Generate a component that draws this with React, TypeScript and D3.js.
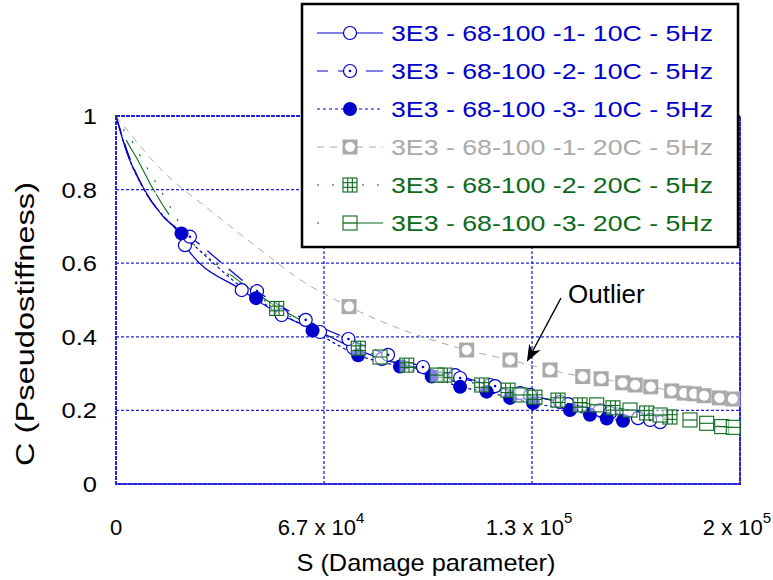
import React from "react";
import * as d3 from "d3";

const W = 773;
const H = 580;

// axis ticks
const xTickValues = [0, 200000 / 3, 400000 / 3, 200000];
const xTickMant = ["0", "6.7 x 10", "1.3 x 10", "2 x 10"];
const xTickExp = ["", "4", "5", "5"];
const yTickValues = [0, 0.2, 0.4, 0.6, 0.8, 1];
const yTickLabels = ["0", "0.2", "0.4", "0.6", "0.8", "1"];

// series names
const seriesNames = [
  "3E3 - 68-100 -1- 10C - 5Hz",
  "3E3 - 68-100 -2- 10C - 5Hz",
  "3E3 - 68-100 -3- 10C - 5Hz",
  "3E3 - 68-100 -1- 20C - 5Hz",
  "3E3 - 68-100 -2- 20C - 5Hz",
  "3E3 - 68-100 -3- 20C - 5Hz",
];

// Series 1 (10C, #1): early curve + markers
const s1LineS = [0, 3500, 8650, 15200, 19400];
const s1LineC = [1, 0.9, 0.807, 0.726, 0.69];
const s1MarkS = [22100, 40300, 53100, 65400, 76000, 85200, 108700, 119900, 129500, 142300, 155100, 167300, 174400];
const s1MarkC = [0.649, 0.527, 0.459, 0.413, 0.37, 0.34, 0.296, 0.269, 0.247, 0.223, 0.201, 0.179, 0.168];

// Series 2 (10C, #2)
const s2LineS = [0, 4000, 9000, 16000];
const s2LineC = [1, 0.895, 0.8, 0.72];
const s2MarkS = [23700, 45200, 60800, 74500, 87200, 98400, 110300, 121500, 132700, 144900, 158300, 171200];
const s2MarkC = [0.672, 0.524, 0.446, 0.394, 0.351, 0.318, 0.288, 0.266, 0.242, 0.217, 0.193, 0.174];

// Series 3 (10C, #3)
const s3LineS = [0, 4000, 9000, 15000];
const s3LineC = [1, 0.89, 0.8, 0.73];
const s3MarkS = [21000, 44900, 63000, 77600, 91000, 101200, 110300, 118800, 126300, 133700, 145500, 151900, 157300, 162500];
const s3MarkC = [0.681, 0.505, 0.417, 0.35, 0.319, 0.292, 0.264, 0.251, 0.234, 0.22, 0.201, 0.188, 0.178, 0.172];

// Series 4 (20C, #1) - grey
const s4LineS = [0, 15000, 30000, 45000, 60000];
const s4LineC = [1, 0.85, 0.745, 0.645, 0.55];
const s4MarkS = [74700, 112400, 126300, 139100, 149600, 155500, 162400, 166400, 171400, 178100, 182100, 185300, 188500, 193400, 197700];
const s4MarkC = [0.482, 0.364, 0.337, 0.31, 0.292, 0.286, 0.275, 0.269, 0.264, 0.253, 0.247, 0.245, 0.24, 0.234, 0.231];

// Series 5 (20C, #2) - green grid squares
const s5LineS = [0, 2900, 5600, 8750, 11950, 17300, 23700, 29100, 36000];
const s5LineC = [1, 0.957, 0.926, 0.876, 0.831, 0.754, 0.663, 0.622, 0.57];
const s5MarkS = [51500, 77660, 93170, 105450, 117210, 125640, 134290, 141670, 148720, 159290, 170090, 177560];
const s5MarkC = [0.477, 0.369, 0.323, 0.296, 0.269, 0.255, 0.236, 0.228, 0.215, 0.207, 0.193, 0.182];

// Series 6 (20C, #3) - green line squares
const s6LineS = [0, 3000, 7000, 12000, 18000, 25000, 35000, 50000, 65000];
const s6LineC = [1, 0.94, 0.88, 0.8, 0.72, 0.65, 0.58, 0.49, 0.42];
const s6MarkS = [84620, 102880, 129490, 154070, 164740, 174360, 183970, 189330, 194130, 197850];
const s6MarkC = [0.345, 0.296, 0.242, 0.215, 0.201, 0.1875, 0.174, 0.165, 0.156, 0.154];

// annotation
const outlierTip = [131700, 0.332];
const outlierTail = [142600, 0.505];
const outlierTextPos = [144900, 0.492];

const BLUE = "#0000cc";
const GREY = "#aaaaaa";
const GREEN = "#0a6a1a";
const GRID = "#2222dd";
const FONT = "'Liberation Sans', Arial, Helvetica, sans-serif";

type MarkerKind = "open" | "dot" | "filled" | "greySq" | "gridSq" | "lineSq";

const series = [
  { name: seriesNames[0], color: BLUE, dash: "none", width: 1.2, kind: "open" as MarkerKind, lS: s1LineS, lC: s1LineC, mS: s1MarkS, mC: s1MarkC, legOff: 0 },
  { name: seriesNames[1], color: BLUE, dash: "18,10", width: 1.2, kind: "dot" as MarkerKind, lS: s2LineS, lC: s2LineC, mS: s2MarkS, mC: s2MarkC, legOff: 7 },
  { name: seriesNames[2], color: BLUE, dash: "3,3", width: 1.2, kind: "filled" as MarkerKind, lS: s3LineS, lC: s3LineC, mS: s3MarkS, mC: s3MarkC, legOff: 0 },
  { name: seriesNames[3], color: GREY, dash: "7,6", width: 1, kind: "greySq" as MarkerKind, lS: s4LineS, lC: s4LineC, mS: s4MarkS, mC: s4MarkC, legOff: 0 },
  { name: seriesNames[4], color: GREEN, dash: "2,13", width: 1.1, kind: "gridSq" as MarkerKind, lS: s5LineS, lC: s5LineC, mS: s5MarkS, mC: s5MarkC, legOff: 0 },
  { name: seriesNames[5], color: GREEN, dash: "2,24,60", width: 1.1, kind: "lineSq" as MarkerKind, lS: s6LineS, lC: s6LineC, mS: s6MarkS, mC: s6MarkC, legOff: 0 },
];

function Marker({ kind, color, cx, cy }: { kind: MarkerKind; color: string; cx: number; cy: number }) {
  const h = 7;
  switch (kind) {
    case "open":
      return <circle cx={cx} cy={cy} r={6.5} fill="white" stroke={color} strokeWidth={1.2} />;
    case "dot":
      return (
        <g>
          <circle cx={cx} cy={cy} r={6.5} fill="white" stroke={color} strokeWidth={1.2} />
          <circle cx={cx} cy={cy} r={1.3} fill={color} />
        </g>
      );
    case "filled":
      return <circle cx={cx} cy={cy} r={7} fill={color} />;
    case "greySq":
      return (
        <g>
          <rect x={cx - 7.5} y={cy - 7.5} width={15} height={15} fill={color} />
          <circle cx={cx} cy={cy} r={5} fill="white" />
        </g>
      );
    case "gridSq":
      return (
        <g fill="none" stroke={color} strokeWidth={1.1}>
          <rect x={cx - h} y={cy - h} width={2 * h} height={2 * h} fill="white" fillOpacity={0.5} />
          <line x1={cx - h / 3} x2={cx - h / 3} y1={cy - h} y2={cy + h} />
          <line x1={cx + h / 3} x2={cx + h / 3} y1={cy - h} y2={cy + h} />
          <line y1={cy - h / 3} y2={cy - h / 3} x1={cx - h} x2={cx + h} />
          <line y1={cy + h / 3} y2={cy + h / 3} x1={cx - h} x2={cx + h} />
        </g>
      );
    case "lineSq":
      return (
        <g fill="none" stroke={color} strokeWidth={1.1}>
          <rect x={cx - h} y={cy - h} width={2 * h} height={2 * h} fill="white" fillOpacity={0.5} />
          <line y1={cy} y2={cy} x1={cx - h} x2={cx + h} />
        </g>
      );
  }
  return null;
}

export default function App() {
  const x = d3.scaleLinear().domain([0, 200000]).range([116, 740]);
  const y = d3.scaleLinear().domain([0, 1]).range([484, 116]);

  const line = d3
    .line<[number, number]>()
    .x((d) => x(d[0]))
    .y((d) => y(d[1]))
    .curve(d3.curveMonotoneX);

  const legendX0 = 317;
  const legendX1 = 383;
  const legendMX = 350;
  const legendTextX = 391;
  const legendBase0 = 41;
  const legendStep = 38;

  const [tipX, tipY] = [x(outlierTip[0]), y(outlierTip[1])];
  const [tailX, tailY] = [x(outlierTail[0]), y(outlierTail[1])];
  const ang = Math.atan2(tipY - tailY, tipX - tailX);
  const aL = 17;
  const aW = 6.5;
  const bx = tipX - aL * Math.cos(ang);
  const by = tipY - aL * Math.sin(ang);
  const nx = -Math.sin(ang);
  const ny = Math.cos(ang);
  const notchX = tipX - aL * 0.7 * Math.cos(ang);
  const notchY = tipY - aL * 0.7 * Math.sin(ang);

  return (
    <div style={{ position: "absolute", left: 0, top: 0 }}>
      <svg width={W} height={H} style={{ display: "block", background: "white" }} fontFamily={FONT}>
        {/* grid */}
        {yTickValues.map((v, i) => (
          <line key={"gy" + i} x1={x(0)} x2={x(200000)} y1={y(v)} y2={y(v)} stroke={GRID} strokeWidth={1.3} strokeDasharray="3,2" />
        ))}
        {xTickValues.map((v, i) => (
          <line key={"gx" + i} x1={x(v)} x2={x(v)} y1={y(0)} y2={y(1)} stroke={GRID} strokeWidth={1.3} strokeDasharray="3,2" />
        ))}
        {/* frame */}
        <rect x={x(0)} y={y(1)} width={x(200000) - x(0)} height={y(0) - y(1)} fill="none" stroke={GRID} strokeWidth={2} strokeDasharray="4,1" />

        {/* series lines */}
        {series.map((s, i) => {
          const pts: [number, number][] = [
            ...s.lS.map((v, j) => [v, s.lC[j]] as [number, number]),
            ...s.mS.map((v, j) => [v, s.mC[j]] as [number, number]),
          ];
          return (
            <path key={"l" + i} d={line(pts) || ""} fill="none" stroke={s.color} strokeWidth={s.width} strokeDasharray={s.dash} />
          );
        })}
        {/* series markers */}
        {series.map((s, i) => (
          <g key={"m" + i}>
            {s.mS.map((v, j) => (
              <Marker key={j} kind={s.kind} color={s.color} cx={x(v)} cy={y(s.mC[j])} />
            ))}
          </g>
        ))}

        {/* y tick labels */}
        {yTickValues.map((v, i) => (
          <text key={"yl" + i} transform={`translate(97, ${y(v) + 8}) scale(1.16, 1)`} textAnchor="end" fontSize={22} fill="black">
            {yTickLabels[i]}
          </text>
        ))}
        {/* x tick labels */}
        {xTickValues.map((v, i) => (
          <text key={"xl" + i} x={x(v) + (xTickExp[i] ? -3 : 0)} y={535} textAnchor="middle" fontSize={22} fill="black">
            {xTickMant[i]}
            {xTickExp[i] ? (
              <tspan dy={-12} fontSize={15}>
                {xTickExp[i]}
              </tspan>
            ) : null}
          </text>
        ))}
        {/* axis titles */}
        <text x={426} y={571} textAnchor="middle" fontSize={24} fill="black" textLength={259} lengthAdjust="spacingAndGlyphs">
          S (Damage parameter)
        </text>
        <text transform={`translate(34, 324) rotate(-90)`} textAnchor="middle" fontSize={26} fill="black" textLength={284} lengthAdjust="spacingAndGlyphs">
          C (Pseudostiffness)
        </text>

        {/* outlier annotation */}
        <line x1={tailX} y1={tailY} x2={notchX} y2={notchY} stroke="black" strokeWidth={1.3} />
        <polygon
          points={`${tipX},${tipY} ${bx + nx * aW},${by + ny * aW} ${notchX},${notchY} ${bx - nx * aW},${by - ny * aW}`}
          fill="black"
        />
        <text x={x(outlierTextPos[0])} y={y(outlierTextPos[1])} fontSize={26} fill="black">
          Outlier
        </text>

        {/* legend */}
        <rect x={302} y={4} width={436} height={243} fill="white" stroke="black" strokeWidth={2.5} />
        {series.map((s, i) => {
          const base = legendBase0 + i * legendStep;
          const cy = base - 8;
          return (
            <g key={"lg" + i}>
              <line x1={legendX0} x2={legendX1} y1={cy} y2={cy} stroke={s.color} strokeWidth={s.width} strokeDasharray={s.dash} strokeDashoffset={s.legOff} />
              <Marker kind={s.kind} color={s.color} cx={legendMX} cy={cy} />
              <text x={legendTextX} y={base} fontSize={22} fill={s.color} textLength={322} lengthAdjust="spacingAndGlyphs">
                {s.name}
              </text>
            </g>
          );
        })}
      </svg>
    </div>
  );
}
